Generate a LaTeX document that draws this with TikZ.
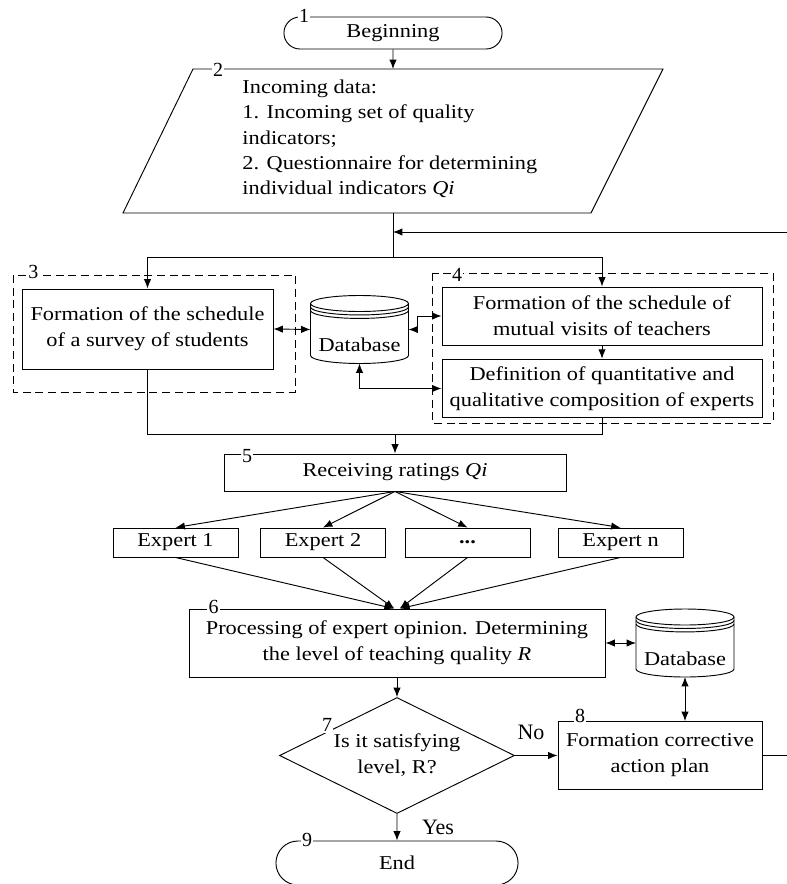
\documentclass[tikz,border=0pt]{standalone}
\usepackage{fontspec}
\setmainfont{Liberation Serif}[FakeStretch=1.14]
\newfontfamily\plainserif{Liberation Serif}
\usetikzlibrary{positioning}
\usetikzlibrary{shapes}
\usetikzlibrary{arrows.meta}
\usetikzlibrary{calc}

% cylinder with the three top rims, drawn round an empty node
\newcommand{\dbdraw}[1]{%
  \draw ([yshift=-6pt]#1.north) ellipse [x radius=36.75pt, y radius=6pt];
  \draw ([yshift=-8.6pt]#1.north west) arc[start angle=180, end angle=360, x radius=36.75pt, y radius=6pt];
  \draw ([yshift=-11.2pt]#1.north west) arc[start angle=180, end angle=360, x radius=36.75pt, y radius=6pt];
  \draw ([yshift=-6pt]#1.north west) -- ([yshift=6pt]#1.south west)
    arc[start angle=180, end angle=360, x radius=36.75pt, y radius=6pt]
    -- ([yshift=-6pt]#1.north east);
}
\newcommand{\stepfont}{\plainserif\fontsize{15pt}{16pt}\selectfont}

\begin{document}
\begin{tikzpicture}[
x=0.75pt, y=-0.75pt,
line width=0.7pt,
font=\fontsize{14.7pt}{19.5pt}\selectfont,
>={Latex[length=7pt,width=5.5pt]},
stepno/.style={fill=white, inner sep=1pt, font=\stepfont}
]

\tikzstyle{block} = [draw, shape=rectangle, align=center, inner sep=2pt]
\tikzstyle{term} = [draw, shape=rounded rectangle, minimum height=24pt]
\tikzstyle{dbase} = [shape=rectangle, outer sep=0pt, inner sep=0pt, minimum width=73.5pt, minimum height=51pt, text height=33pt, text depth=0pt]
\tikzstyle{expert} = [block, minimum width=93.75pt, minimum height=21.75pt]
\tikzstyle{decide} = [draw, diamond, aspect=2, inner sep=0pt, align=center, minimum width=176.25pt, minimum height=87pt]
\tikzstyle{grp} = [draw, dash pattern=on 6pt off 3.5pt, line width=0.6pt]
\tikzstyle{ans} = [inner sep=0pt, font=\plainserif\fontsize{16.5pt}{18pt}\selectfont]

\useasboundingbox (0,0) rectangle (787,884);
\clip (0,0) rectangle (787,884);

% start and incoming data
\node[term, minimum width=170.25pt] (begin) at (393,33) {Beginning};
\coordinate (p1) at (193,69);
\coordinate (p2) at (663,69);
\coordinate (p3) at (591,213);
\coordinate (p4) at (123,213);
\draw (p1) -- (p2) -- (p3) -- (p4) -- cycle;
\node[anchor=west, align=left, inner sep=0pt, font=\fontsize{14.7pt}{19pt}\selectfont] (data) at (242,139)
  {Incoming data:\\1. Incoming set of quality\\indicators;\\2. Questionnaire for determining\\individual indicators \textit{Qi}};

% dashed groups 3 and 4
\draw[grp] (13,275) rectangle (295,392);
\draw[grp] (432,273) rectangle (773,423);

\node[block, minimum width=188.25pt, minimum height=60pt] (survey) at (147.5,329) {Formation of the schedule\\of a survey of students};
\node[dbase] (db1) at (359.5,329.5) {Database};
\node[block, minimum width=240pt, minimum height=43.5pt] (visits) at (602,316) {Formation of the schedule of\\mutual visits of teachers};
\node[block, minimum width=240pt, minimum height=44pt] (compose) at (602,388.5) {Definition of quantitative and\\qualitative composition of experts};

% ratings and experts
\node[block, minimum width=256.5pt, minimum height=27.75pt] (ratings) at (395,472.5) {Receiving ratings \textit{Qi}};
\node[expert] (e1) at (175.5,542.5) {Expert 1};
\node[expert] (e2) at (323,542.5) {Expert 2};
\node[expert] (e3) at (467.5,542.5) {\textbf{...}};
\node[expert] (en) at (620.5,542.5) {Expert n};

% processing, decision, correction, end
\node[block, minimum width=312pt, minimum height=51pt] (proc) at (397,643) {Processing of expert opinion. Determining\\the level of teaching quality \textit{R}};
\node[dbase] (db2) at (685,643) {Database};
\node[decide] (check) at (397,755.5) {Is it satisfying\\level, R?};
\node[block, minimum width=153pt, minimum height=51pt] (plan) at (660,755.5) {Formation corrective\\action plan};
\node[term, minimum width=188.25pt, minimum height=33pt] (end) at (397,863) {End};

\dbdraw{db1}
\dbdraw{db2}

% step numbers
\node[stepno] (n1) at (304,15.5) {1};
\node[stepno] (n2) at (218,70) {2};
\node[stepno] (n3) at (33.5,272) {3};
\node[stepno] (n4) at (457,275) {4};
\node[stepno] (n5) at (247,456) {5};
\node[stepno] (n6) at (213.5,607) {6};
\node[stepno] (n7) at (327,725) {7};
\node[stepno] (n8) at (580,716) {8};
\node[stepno] (n9) at (307,840) {9};

% connectors
\draw[->] (begin) -- (begin |- p1);
\coordinate (dataout) at (393,213);
\coordinate (split) at (393,257);
\coordinate (fbtop) at (787,232);
\draw (dataout) -- (split);
\draw[->] (split) -| (survey.north);
\draw[->] (split) -| (visits.north);
\draw[->] (fbtop) -- (fbtop -| dataout);
\draw[<->] (survey.east) -- (db1.west);
\draw[<->] (db1.east) -- ++(9,0) |- (visits.west);
\draw[<->] (db1.south) |- (compose.west);
\draw[->] (visits) -- (compose);
\coordinate (join) at (395,434);
\draw (survey.south) |- (join);
\draw (compose.south) |- (join);
\draw[->] (join) -- (ratings);
\foreach \e in {e1,e2,e3,en}
  \draw[->] (ratings.south) -- (\e.north);
\draw[->] (e1.south) -- ([xshift=-2.5pt]proc.north);
\draw[->] (e2.south) -- ([xshift=-2pt]proc.north);
\draw[->] (e3.south) -- ([xshift=2pt]proc.north);
\draw[->] (en.south) -- ([xshift=2.5pt]proc.north);
\draw[<->] (proc.east) -- (db2.west);
\draw[<->] (db2.south) -- (db2.south |- plan.north);
\draw[->] (proc) -- (check);
\draw[->] (check.east) -- (plan.west);
\draw (plan.east) -- (plan.east -| fbtop);
\draw[->] (check) -- (end);
\node[ans] (no) at (531,732) {No};
\node[ans] (yes) at (438,827) {Yes};
\end{tikzpicture}
\end{document}
